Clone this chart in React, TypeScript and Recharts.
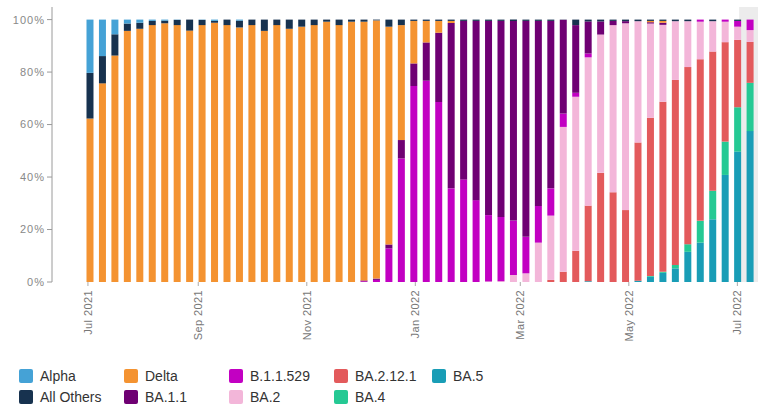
import React from 'react';
import { BarChart, Bar, XAxis, YAxis, ReferenceArea } from 'recharts';

const weeks = [
  '2021-07-02', '2021-07-09', '2021-07-16', '2021-07-23', '2021-07-30',
  '2021-08-06', '2021-08-13', '2021-08-20', '2021-08-27',
  '2021-09-03', '2021-09-10', '2021-09-17', '2021-09-24',
  '2021-10-01', '2021-10-08', '2021-10-15', '2021-10-22', '2021-10-29',
  '2021-11-05', '2021-11-12', '2021-11-19', '2021-11-26',
  '2021-12-03', '2021-12-10', '2021-12-17', '2021-12-24', '2021-12-31',
  '2022-01-07', '2022-01-14', '2022-01-21', '2022-01-28',
  '2022-02-04', '2022-02-11', '2022-02-18', '2022-02-25',
  '2022-03-04', '2022-03-11', '2022-03-18', '2022-03-25',
  '2022-04-01', '2022-04-08', '2022-04-15', '2022-04-22', '2022-04-29',
  '2022-05-06', '2022-05-13', '2022-05-20', '2022-05-27',
  '2022-06-03', '2022-06-10', '2022-06-17', '2022-06-24',
  '2022-07-01', '2022-07-08',
];

const alpha = [20.3, 13.9, 5.6, 1.5, 1.2, 0.5, 0.4, 0.1, 0, 0.1, 0.5, 0, 0.4, 0, 0, 0, 0, 0, 0, 0, 0, 0, 0, 0, 0, 0, 0, 0, 0, 0, 0, 0, 0, 0, 0, 0, 0, 0, 0, 0, 0, 0, 0, 0, 0, 0, 0, 0, 0, 0, 0, 0, 0, 0];
const allOthers = [17.4, 10.4, 8.1, 2.8, 2.3, 1.6, 1.0, 2.0, 4.2, 2.0, 0.7, 2.1, 2.6, 2.1, 4.3, 2.1, 3.5, 2.7, 2.1, 0.8, 2.1, 0.8, 0.8, 0.3, 2.7, 2.1, 0.5, 0.5, 0.5, 0.5, 0.5, 0.5, 0.5, 0.5, 0.5, 0.5, 0.5, 0.5, 0.1, 2.1, 0.7, 0.7, 0.5, 0.6, 0.6, 0.5, 0.5, 0.6, 0.6, 0, 0.6, 0, 0.5, 0];
const delta = [62.3, 75.7, 86.3, 95.7, 96.5, 97.9, 98.6, 97.9, 95.8, 97.9, 98.8, 97.9, 97.0, 97.9, 95.7, 97.9, 96.5, 97.3, 97.9, 99.2, 97.9, 99.2, 98.6, 98.4, 83.0, 43.8, 16.2, 8.2, 4.5, 0.8, 0, 0, 0, 0, 0, 0, 0, 0, 0, 0, 0, 0, 0, 0, 0, 0.5, 0.7, 0, 0, 0, 0, 0, 0, 0];
const ba11 = [0, 0, 0, 0, 0, 0, 0, 0, 0, 0, 0, 0, 0, 0, 0, 0, 0, 0, 0, 0, 0, 0, 0.3, 0.5, 1.5, 7.0, 8.6, 14.6, 26.4, 63.0, 60.4, 68.3, 74.0, 74.7, 76.1, 82.3, 70.5, 63.8, 35.7, 25.8, 12.2, 5.0, 1.6, 0.8, 0, 0.5, 0.8, 0, 0, 0, 0, 0, 0, 0];
const b11529 = [0, 0, 0, 0, 0, 0, 0, 0, 0, 0, 0, 0, 0, 0, 0, 0, 0, 0, 0, 0, 0, 0, 0.3, 0.8, 12.8, 47.1, 74.7, 76.7, 68.6, 35.7, 39.1, 31.2, 25.3, 24.5, 20.7, 13.9, 14.0, 10.4, 5.1, 1.5, 1.5, 0, 0, 0, 0, 0, 0, 0, 0, 0.8, 0, 0.8, 2.2, 4.0];
const ba2 = [0, 0, 0, 0, 0, 0, 0, 0, 0, 0, 0, 0, 0, 0, 0, 0, 0, 0, 0, 0, 0, 0, 0, 0, 0, 0, 0, 0, 0, 0, 0, 0, 0.2, 0.3, 2.7, 3.3, 15.0, 24.5, 55.2, 58.7, 56.5, 52.7, 63.7, 71.2, 46.2, 35.9, 29.3, 22.4, 17.5, 14.3, 11.6, 7.8, 5.0, 4.5];
const ba2121 = [0, 0, 0, 0, 0, 0, 0, 0, 0, 0, 0, 0, 0, 0, 0, 0, 0, 0, 0, 0, 0, 0, 0, 0, 0, 0, 0, 0, 0, 0, 0, 0, 0, 0, 0, 0, 0, 0.8, 3.9, 11.9, 28.8, 41.6, 34.2, 27.4, 52.7, 60.3, 64.8, 70.5, 67.5, 61.6, 53.0, 37.9, 25.7, 15.6];
const ba4 = [0, 0, 0, 0, 0, 0, 0, 0, 0, 0, 0, 0, 0, 0, 0, 0, 0, 0, 0, 0, 0, 0, 0, 0, 0, 0, 0, 0, 0, 0, 0, 0, 0, 0, 0, 0, 0, 0, 0, 0, 0, 0, 0, 0, 0, 0.3, 0.4, 1.3, 2.9, 8.3, 10.9, 12.7, 16.9, 18.4];
const ba5 = [0, 0, 0, 0, 0, 0, 0, 0, 0, 0, 0, 0, 0, 0, 0, 0, 0, 0, 0, 0, 0, 0, 0, 0, 0, 0, 0, 0, 0, 0, 0, 0, 0, 0, 0, 0, 0, 0, 0, 0, 0.3, 0, 0, 0, 0.5, 2.0, 3.5, 5.2, 11.5, 15.0, 23.9, 40.8, 49.7, 57.5];

const tickDates = ['2021-07-01', '2021-09-01', '2021-11-01', '2022-01-01', '2022-03-01', '2022-05-01', '2022-07-01'];
const tickLabels = ['Jul 2021', 'Sep 2021', 'Nov 2021', 'Jan 2022', 'Mar 2022', 'May 2022', 'Jul 2022'];
const yTicks = [0, 20, 40, 60, 80, 100];

const ORIGIN = Date.UTC(2021, 6, 1);
const toDay = (s: string) => (Date.parse(s) - ORIGIN) / 86400000;

const COLORS = {
  alpha: '#45a2d6',
  allOthers: '#17324f',
  delta: '#f49331',
  ba11: '#6f0073',
  b11529: '#c200c2',
  ba2: '#f3b6d9',
  ba2121: '#e35a5c',
  ba4: '#25c994',
  ba5: '#199db6',
};

// stacking bottom -> top
const stackOrder: { key: keyof typeof COLORS; name: string; values: number[] }[] = [
  { key: 'ba5', name: 'BA.5', values: ba5 },
  { key: 'ba4', name: 'BA.4', values: ba4 },
  { key: 'ba2121', name: 'BA.2.12.1', values: ba2121 },
  { key: 'ba2', name: 'BA.2', values: ba2 },
  { key: 'b11529', name: 'B.1.1.529', values: b11529 },
  { key: 'ba11', name: 'BA.1.1', values: ba11 },
  { key: 'delta', name: 'Delta', values: delta },
  { key: 'allOthers', name: 'All Others', values: allOthers },
  { key: 'alpha', name: 'Alpha', values: alpha },
];

const data = weeks.map((w, i) => {
  const row: Record<string, number | string> = { week: w, day: toDay(w) };
  stackOrder.forEach((s) => {
    row[s.key] = s.values[i];
  });
  return row;
});

const tickDays = tickDates.map(toDay);
const labelFor = (d: number) => {
  const idx = tickDays.findIndex((t) => Math.abs(t - d) < 0.01);
  return idx >= 0 ? tickLabels[idx] : '';
};

const FONT = '"Liberation Sans", Arial, sans-serif';

const XTick = (props: any) => {
  const { x, y, payload } = props;
  return (
    <text
      x={x}
      y={y + 2}
      transform={`rotate(-90, ${x}, ${y + 2})`}
      textAnchor="end"
      dy="0.35em"
      fill="#777"
      fontSize={11}
      fontFamily={FONT}
      style={{ letterSpacing: '0.4px' }}
    >
      {labelFor(payload.value)}
    </text>
  );
};

const legendCols = [
  [{ key: 'alpha', name: 'Alpha' }, { key: 'allOthers', name: 'All Others' }],
  [{ key: 'delta', name: 'Delta' }, { key: 'ba11', name: 'BA.1.1' }],
  [{ key: 'b11529', name: 'B.1.1.529' }, { key: 'ba2', name: 'BA.2' }],
  [{ key: 'ba2121', name: 'BA.2.12.1' }, { key: 'ba4', name: 'BA.4' }],
  [{ key: 'ba5', name: 'BA.5' }],
];
const legendColX = [19, 124, 229, 334, 432];

export default function App() {
  return (
    <div style={{ position: 'absolute', left: 0, top: 0, width: 758, height: 405, background: '#fff' }}>
      <BarChart
        width={758}
        height={405}
        data={data}
        barSize={7}
        margin={{ top: 7, right: 0, bottom: 63, left: 0 }}
      >
        <ReferenceArea
          x1={toDay('2022-07-02')}
          x2={376.6}
          y1={0}
          y2={104.8}
          fill="#ececec"
          fillOpacity={1}
          stroke="none"
          ifOverflow="visible"
        />
        <XAxis
          dataKey="day"
          type="number"
          domain={[-20.2, 376.6]}
          ticks={tickDays}
          interval={0}
          allowDataOverflow
          axisLine={false}
          tickLine={{ stroke: '#aaa' }}
          tickSize={4}
          height={60}
          tick={<XTick />}
        />
        <YAxis
          type="number"
          domain={[0, 104.8]}
          ticks={yTicks}
          interval={0}
          allowDataOverflow
          width={52}
          axisLine={{ stroke: '#9a9a9a' }}
          tickLine={{ stroke: '#9a9a9a' }}
          tickSize={5}
          tickFormatter={(v: number) => `${v}%`}
          tick={{ fill: '#888', fontSize: 11, fontFamily: FONT, letterSpacing: '1px' }}
        />
        {stackOrder.map((s) => (
          <Bar
            key={s.key}
            dataKey={s.key}
            name={s.name}
            stackId="a"
            fill={COLORS[s.key]}
            isAnimationActive={false}
          />
        ))}
      </BarChart>
      {legendCols.map((col, ci) =>
        col.map((item, ri) => (
          <div
            key={item.key}
            style={{
              position: 'absolute',
              left: legendColX[ci],
              top: 369 + ri * 20.5,
              display: 'flex',
              alignItems: 'center',
              fontFamily: FONT,
              fontSize: 14,
              color: '#333',
              lineHeight: '14px',
              whiteSpace: 'nowrap',
            }}
          >
            <span
              style={{
                display: 'inline-block',
                width: 14,
                height: 14,
                borderRadius: 2,
                background: COLORS[item.key as keyof typeof COLORS],
                marginRight: 7,
              }}
            />
            <span>{item.name}</span>
          </div>
        ))
      )}
    </div>
  );
}
